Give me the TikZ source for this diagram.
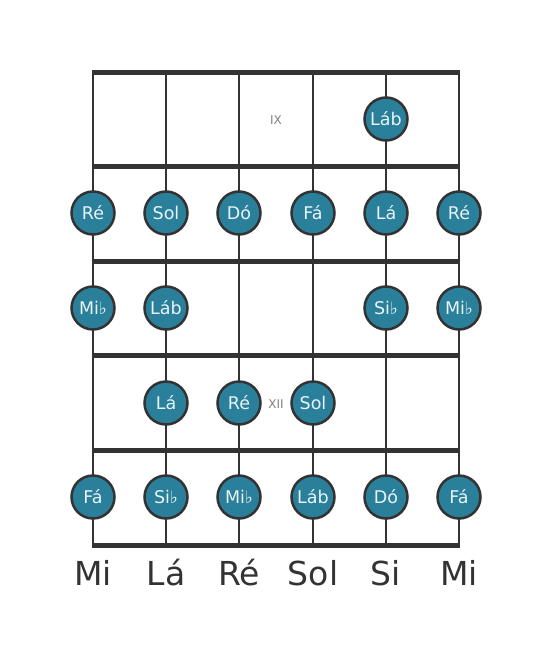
\documentclass[tikz,border=0pt]{standalone}
\usepackage{fontspec}
\setmainfont{DejaVu Sans}
\definecolor{notefill}{HTML}{2A7F9A}
\definecolor{linec}{HTML}{333333}
\definecolor{notetext}{HTML}{E8F4F8}
\tikzset{
  fret/.style={line width=5pt, draw=linec},
  str/.style={line width=2.8pt, draw=linec},
  note/.style={circle, fill=notefill, draw=linec, line width=2.5pt, minimum size=43pt, inner sep=0pt, text=notetext, font=\fontsize{17.5}{19}\selectfont},
  fretnum/.style={text=gray, font=\fontsize{12}{14}\selectfont},
  strname/.style={text=linec, font=\fontsize{33}{36}\selectfont}
}
\newcommand{\fl}{\raisebox{0.05ex}{\fontsize{17}{17}\selectfont ♭}}
\begin{document}
\begin{tikzpicture}[x=1pt,y=-1pt]
\useasboundingbox (0,0) rectangle (553,656);
% strings
\foreach \i/\x in {1/93,2/166,3/239,4/313,5/386,6/459}{
  \coordinate (st\i) at (\x,72);
  \coordinate (sb\i) at (\x,545);
  \draw[str] (st\i) -- (sb\i);
}
% frets
\foreach \j/\y in {0/72,1/166,2/261,3/355,4/450,5/545}{
  \coordinate (fl\j) at (92,\y);
  \coordinate (fr\j) at (460,\y);
  \draw[fret] (fl\j) -- (fr\j);
}
\node[fretnum] (ix) at (276,120) {IX};
\node[fretnum] (xii) at (276,404) {XII};
% notes
\node[note] (n1) at (386,119) {Láb};
\node[note] (n2) at (93,213) {Ré};
\node[note] (n3) at (166,213) {Sol};
\node[note] (n4) at (239,213) {Dó};
\node[note] (n5) at (313,213) {Fá};
\node[note] (n6) at (386,213) {Lá};
\node[note] (n7) at (459,213) {Ré};
\node[note] (n8) at (93,308) {Mi\fl};
\node[note] (n9) at (166,308) {Láb};
\node[note] (n10) at (386,308) {Si\fl};
\node[note] (n11) at (459,308) {Mi\fl};
\node[note] (n12) at (166,403) {Lá};
\node[note] (n13) at (239,403) {Ré};
\node[note] (n14) at (313,403) {Sol};
\node[note] (n15) at (93,497) {Fá};
\node[note] (n16) at (166,497) {Si\fl};
\node[note] (n17) at (239,497) {Mi\fl};
\node[note] (n18) at (313,497) {Láb};
\node[note] (n19) at (386,497) {Dó};
\node[note] (n20) at (459,497) {Fá};
% string names
\node[strname] (s1) at (93,573) {Mi};
\node[strname] (s2) at (166,573) {Lá};
\node[strname] (s3) at (239,573) {Ré};
\node[strname] (s4) at (313,573) {Sol};
\node[strname] (s5) at (386,573) {Si};
\node[strname] (s6) at (459,573) {Mi};
\end{tikzpicture}
\end{document}
